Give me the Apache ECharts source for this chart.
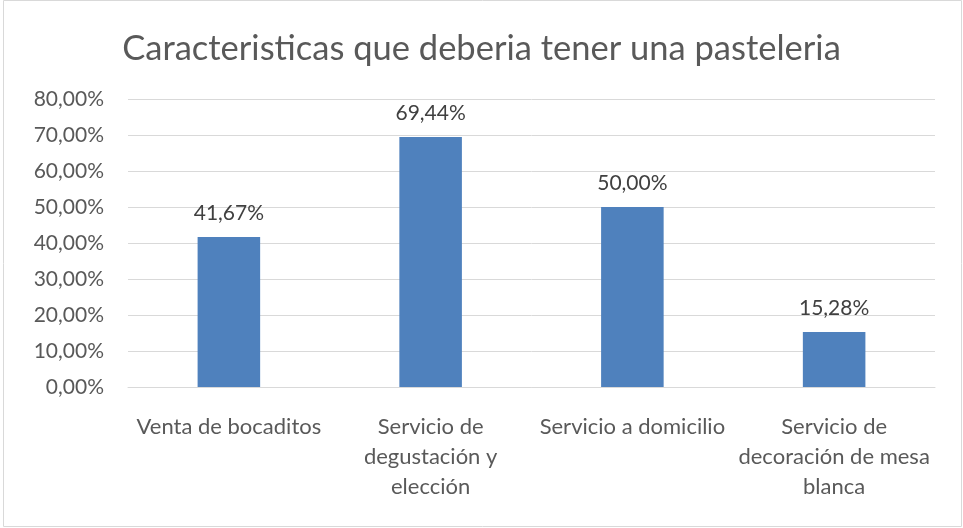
<!DOCTYPE html>
<html><head><meta charset="utf-8">
<script src="https://cdn.jsdelivr.net/npm/echarts@6/dist/echarts.min.js"></script>
<style>html,body{margin:0;padding:0;background:#fff}#c{width:963px;height:528px}</style>
</head><body><div id="c"></div>
<script>
const titleText = 'Caracteristicas que deberia tener una pasteleria';
const categories = ['Venta de bocaditos', 'Servicio de\ndegustación y\nelección', 'Servicio a domicilio', 'Servicio de\ndecoración de mesa\nblanca'];
const values = [41.67, 69.44, 50.00, 15.28];
const yMin = 0, yMax = 80, yStep = 10;

const fmt = v => v.toFixed(2).replace('.', ',') + '%';
const chart = echarts.init(document.getElementById('c'));
chart.setOption({
  animation: false,
  title: { text: titleText, left: 'center', top: 26,
    textStyle: { fontFamily: 'Lato', fontSize: 34.5, fontWeight: 'normal', color: '#595959' } },
  graphic: [{ type: 'rect', shape: { x: 3.5, y: 0.5, width: 958, height: 526 },
    style: { fill: 'none', stroke: '#d9d9d9', lineWidth: 1 }, silent: true }],
  grid: { left: 128, right: 28, top: 99, bottom: 141 },
  xAxis: { type: 'category', data: categories,
    axisLine: { lineStyle: { color: '#d9d9d9' } }, axisTick: { show: false },
    axisLabel: { interval: 0, margin: 25, color: '#595959', fontFamily: 'Lato', fontSize: 22, lineHeight: 30, align: 'center' } },
  yAxis: { type: 'value', min: yMin, max: yMax, interval: yStep,
    axisLine: { show: false }, axisTick: { show: false },
    splitLine: { lineStyle: { color: '#d9d9d9' } },
    axisLabel: { formatter: v => fmt(v), color: '#595959', fontFamily: 'Lato', fontSize: 21, margin: 24 } },
  series: [{ type: 'bar', data: values, barWidth: '31%', itemStyle: { color: '#4f81bd' },
    label: { show: true, position: 'top', distance: 13, formatter: p => fmt(p.value), color: '#404040', fontFamily: 'Lato', fontSize: 21 } }]
});
</script></body></html>
